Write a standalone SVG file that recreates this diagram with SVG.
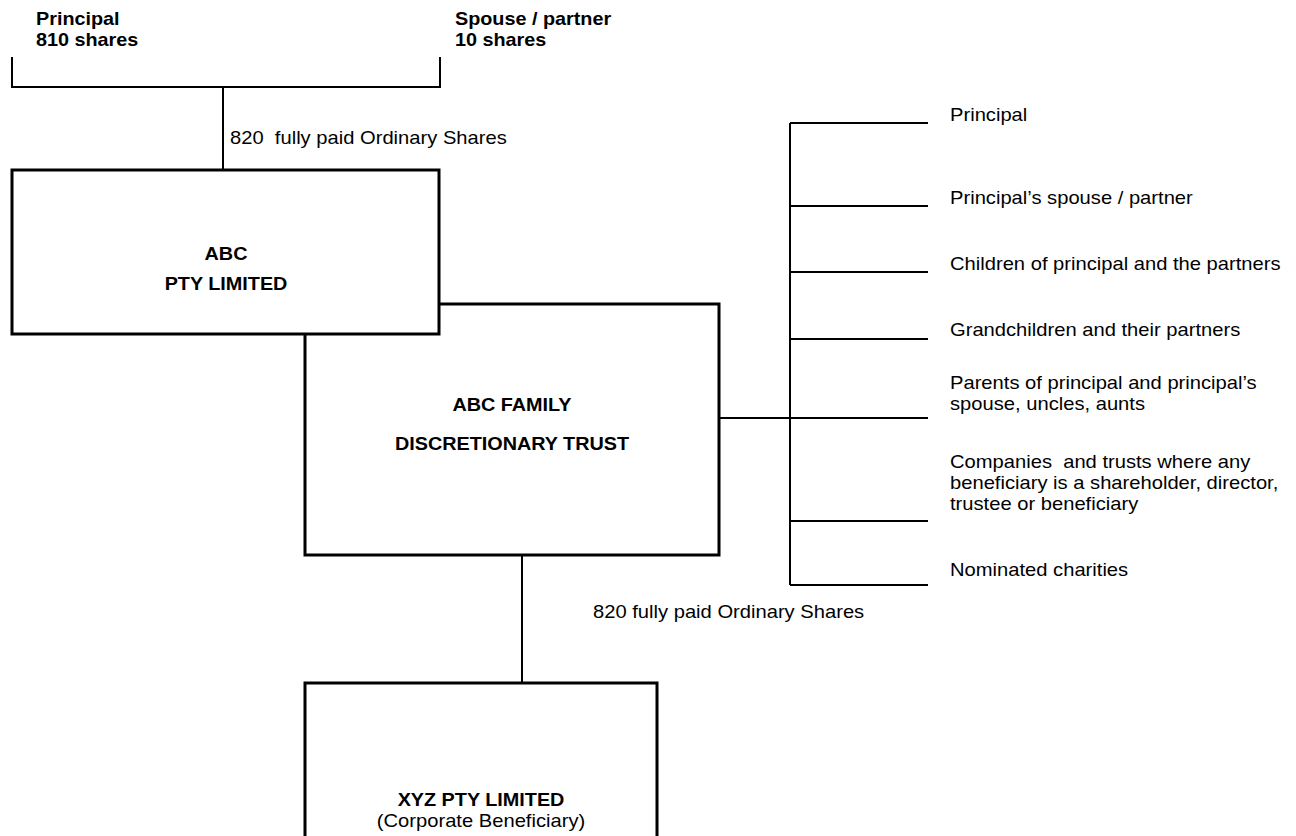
<svg xmlns="http://www.w3.org/2000/svg" width="1296" height="836" viewBox="0 0 1296 836">
  <style>
    .b { font-family: "Liberation Sans", Arial, sans-serif; font-size: 18px; font-weight: bold; fill: #000; white-space: pre; }
    .r { font-family: "Liberation Sans", Arial, sans-serif; font-size: 18px; fill: #000; white-space: pre; }
    .box { fill: #fff; stroke: #000; stroke-width: 3; }
    .ln { stroke: #000; stroke-width: 2; fill: none; }
  </style>
  <rect width="1296" height="836" fill="#fff"/>

  <g id="connectors">
    <polyline class="ln" points="12,57 12,87 440,87 440,57"/>
    <line class="ln" x1="223" y1="87" x2="223" y2="170"/>
    <line class="ln" x1="522" y1="555" x2="522" y2="683"/>
    <line class="ln" x1="719" y1="418" x2="790" y2="418"/>
    <line class="ln" x1="790" y1="123" x2="790" y2="585"/>
    <line class="ln" x1="790" y1="123" x2="928" y2="123"/>
    <line class="ln" x1="790" y1="206" x2="928" y2="206"/>
    <line class="ln" x1="790" y1="272" x2="928" y2="272"/>
    <line class="ln" x1="790" y1="339" x2="928" y2="339"/>
    <line class="ln" x1="790" y1="418" x2="928" y2="418"/>
    <line class="ln" x1="790" y1="521" x2="928" y2="521"/>
    <line class="ln" x1="790" y1="585" x2="928" y2="585"/>
    <text class="r" xml:space="preserve" transform="translate(230 144) scale(1.12 1)">820  fully paid Ordinary Shares</text>
    <text class="r" transform="translate(593 618) scale(1.12 1)">820 fully paid Ordinary Shares</text>
  </g>

  <g id="principal">
    <text class="b" transform="translate(36 25) scale(1.1 1)"><tspan x="0" y="0">Principal</tspan><tspan x="0" dy="21">810 shares</tspan></text>
  </g>
  <g id="spouse">
    <text class="b" transform="translate(455 25) scale(1.1 1)"><tspan x="0" y="0">Spouse / partner</tspan><tspan x="0" dy="21">10 shares</tspan></text>
  </g>

  <g id="trust">
    <rect class="box" x="305" y="304" width="414" height="251"/>
    <text class="b" text-anchor="middle" transform="translate(512 411) scale(1.1 1)">ABC FAMILY</text>
    <text class="b" text-anchor="middle" transform="translate(512 450) scale(1.1 1)">DISCRETIONARY TRUST</text>
  </g>

  <g id="abc">
    <rect class="box" x="12" y="170" width="427" height="164"/>
    <text class="b" text-anchor="middle" transform="translate(226 260) scale(1.1 1)">ABC</text>
    <text class="b" text-anchor="middle" transform="translate(226 290) scale(1.1 1)">PTY LIMITED</text>
  </g>

  <g id="xyz">
    <rect class="box" x="305" y="683" width="352" height="170"/>
    <text class="b" text-anchor="middle" transform="translate(481 806) scale(1.1 1)">XYZ PTY LIMITED</text>
    <text class="r" text-anchor="middle" transform="translate(481 827) scale(1.12 1)">(Corporate Beneficiary)</text>
  </g>

  <g id="beneficiaries">
    <text class="r" transform="translate(950 121) scale(1.12 1)">Principal</text>
    <text class="r" transform="translate(950 204) scale(1.12 1)">Principal’s spouse / partner</text>
    <text class="r" transform="translate(950 270) scale(1.12 1)">Children of principal and the partners</text>
    <text class="r" transform="translate(950 336) scale(1.12 1)">Grandchildren and their partners</text>
    <text class="r" transform="translate(950 389) scale(1.12 1)"><tspan x="0" y="0">Parents of principal and principal’s</tspan><tspan x="0" dy="21">spouse, uncles, aunts</tspan></text>
    <text class="r" xml:space="preserve" transform="translate(950 468) scale(1.12 1)"><tspan x="0" y="0">Companies  and trusts where any</tspan><tspan x="0" dy="21">beneficiary is a shareholder, director,</tspan><tspan x="0" dy="21">trustee or beneficiary</tspan></text>
    <text class="r" transform="translate(950 576) scale(1.12 1)">Nominated charities</text>
  </g>
</svg>
